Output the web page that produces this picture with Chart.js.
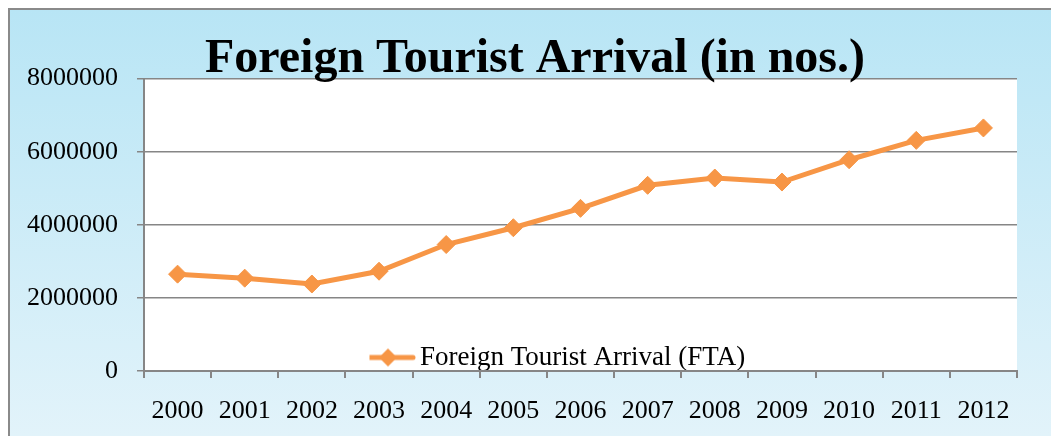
<!DOCTYPE html>
<html>
<head>
<meta charset="utf-8">
<script src="https://cdn.jsdelivr.net/npm/chart.js@4/dist/chart.umd.min.js"></script>
<style>
  html, body { margin: 0; padding: 0; background: #fff; }
  #wrap { width: 1051px; height: 436px; }
</style>
</head>
<body>
<div id="wrap"><canvas id="fta"></canvas></div>
<script>
// data
var YEARS = ['2000','2001','2002','2003','2004','2005','2006','2007','2008','2009','2010','2011','2012'];
var FTA = [2650000, 2540000, 2380000, 2730000, 3460000, 3920000, 4450000, 5080000, 5280000, 5170000, 5780000, 6310000, 6650000];
var Y_TICKS = [0, 2000000, 4000000, 6000000, 8000000];
var SERIES_NAME = 'Foreign Tourist Arrival (FTA)';
var TITLE = 'Foreign Tourist Arrival (in nos.)';

var ORANGE = '#f79646';
var GRID = '#868686';
var FONT = "'Liberation Serif', 'Times New Roman', serif";

// little line + diamond picture for the legend
function legendMark() {
	var c = document.createElement('canvas');
	c.width = 56; c.height = 20;
	var g = c.getContext('2d');
	g.strokeStyle = ORANGE;
	g.lineWidth = 5;
	g.lineCap = 'round';
	g.beginPath(); g.moveTo(3, 10); g.lineTo(53, 10); g.stroke();
	g.fillStyle = ORANGE;
	g.beginPath(); g.moveTo(28, 1); g.lineTo(37, 10); g.lineTo(28, 19); g.lineTo(19, 10); g.closePath(); g.fill();
	return c;
}

var framePlugin = {
	id: 'frame',
	beforeDraw: function(chart) {
		var ctx = chart.ctx, a = chart.chartArea;
		ctx.save();
		ctx.fillStyle = '#fff';
		ctx.fillRect(0, 0, chart.width, chart.height);
		var grd = ctx.createLinearGradient(0, 9, 0, chart.height);
		grd.addColorStop(0, '#b8e5f5');
		grd.addColorStop(1, '#e2f3fa');
		ctx.fillStyle = grd;
		ctx.fillRect(9, 9, chart.width - 9, chart.height - 9);
		ctx.strokeStyle = '#8a8a8a';
		ctx.lineWidth = 2;
		ctx.beginPath();
		ctx.moveTo(9, chart.height); ctx.lineTo(9, 9); ctx.lineTo(chart.width, 9);
		ctx.stroke();
		ctx.fillStyle = '#fff';
		ctx.fillRect(a.left, a.top, a.right - a.left, a.bottom - a.top);
		ctx.restore();
	},
	afterLayout: function(chart) {
		// put the legend inside the plot, near the bottom
		var lg = chart.legend;
		if (lg) {
			var w = lg.width, h = lg.height;
			lg.left = 369.5; lg.right = 369.5 + w;
			lg.top = 344; lg.bottom = 344 + h;
		}
		// title sits a bit right of the plot centre
		var t = chart.titleBlock;
		if (t) { t.left += 22; t.right += 22; }
	}
};

var ctx = document.getElementById('fta').getContext('2d');
window.ftaChart = new Chart(ctx, {
	type: 'line',
	data: {
		labels: YEARS,
		datasets: [{
			label: SERIES_NAME,
			data: FTA,
			borderColor: ORANGE,
			backgroundColor: ORANGE,
			borderWidth: 5,
			pointStyle: 'rectRot',
			pointRadius: 9,
			pointBorderWidth: 1,
			pointBackgroundColor: ORANGE,
			pointBorderColor: ORANGE,
			tension: 0,
			fill: false
		}]
	},
	options: {
		responsive: true,
		maintainAspectRatio: false,
		animation: false,
		layout: { padding: { left: 9, right: 34, top: 0, bottom: 0 } },
		plugins: {
			title: {
				display: true,
				text: TITLE,
				color: '#000',
				font: { family: FONT, size: 48, weight: 'bold' },
				padding: { top: 31, bottom: -10 }
			},
			legend: {
				position: 'chartArea',
				align: 'start',
				labels: {
					usePointStyle: true,
					pointStyle: legendMark(),
					pointStyleWidth: 37,
					padding: 0,
					color: '#000',
					font: { family: FONT, size: 27 }
				}
			},
			tooltip: { enabled: false }
		},
		scales: {
			x: {
				offset: true,
				grid: { offset: true, drawOnChartArea: false, color: GRID, lineWidth: 2, tickLength: 7 },
				border: { color: GRID, width: 2 },
				ticks: { color: '#000', padding: 18, maxRotation: 0, font: { family: FONT, size: 26 } },
				afterFit: function(s) { s.height = 65; }
			},
			y: {
				min: 0,
				max: 8000000,
				afterBuildTicks: function(s) { s.ticks = Y_TICKS.map(function(v) { return { value: v }; }); },
				grid: { color: GRID, lineWidth: 1.5, tickLength: 7 },
				border: { color: GRID, width: 2 },
				ticks: {
					color: '#000',
					padding: 19,
					font: { family: FONT, size: 26 },
					callback: function(v) { return String(v); }
				},
				afterFit: function(s) { s.width = 135; }
			}
		}
	},
	plugins: [framePlugin]
});
</script>
</body>
</html>
